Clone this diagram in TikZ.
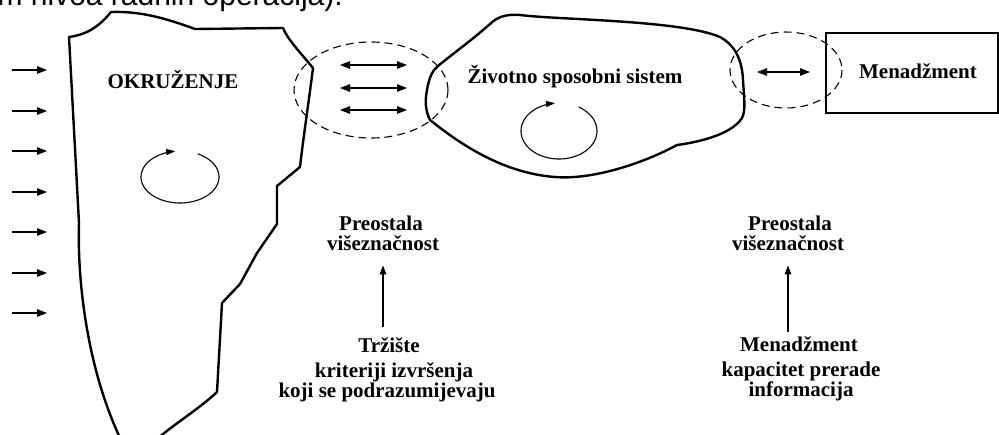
\documentclass[tikz,border=0pt]{standalone}
\usepackage{fontspec}
\setmainfont{Liberation Serif}
\newfontfamily\topfont{Liberation Sans}
\usetikzlibrary{arrows.meta}
\tikzset{
  outline/.style={line width=2.4pt, line join=round},
  zone/.style={line width=1.1pt, dash pattern=on 8pt off 5pt},
  arr/.style={line width=1.2pt, -{Triangle[length=10pt,width=7.5pt]}},
  darr/.style={line width=1.2pt, {Triangle[length=10pt,width=7.5pt]}-{Triangle[length=10pt,width=7.5pt]}},
  varr/.style={line width=1.2pt, -{Triangle[length=9pt,width=6.5pt]}},
  cyc/.style={line width=1.1pt, -{Triangle[length=9pt,width=6pt]}},
  lbl/.style={font=\fontsize{21}{22}\selectfont\bfseries, inner sep=0pt, anchor=base},
  mbox/.style={draw, line width=2.4pt, minimum width=172pt, minimum height=80pt, inner sep=0pt},
}
\begin{document}
\begin{tikzpicture}[x=1pt,y=-1pt]
\useasboundingbox (0,0) rectangle (999,434);
\clip (0,0) rectangle (999,434);
\fill[white] (0,0) rectangle (999,434);

% clipped line of text above the figure
\node[font=\topfont\fontsize{30}{30}\selectfont, inner sep=0pt, anchor=base east] (cut) at (343,5.5) {m nivoa radnih operacija).};

% environment shape
\draw[outline] (69,37) -- (79,223)
  .. controls (77,290) and (90,380) .. (125,448)
  -- (150,445)
  .. controls (172,425) and (198,410) .. (217,392)
  -- (222,303) -- (240,284) -- (257,253) -- (277,224)
  -- (277,186) -- (300,167)
  .. controls (303,140) and (309,100) .. (313,68)
  .. controls (300,52) and (288,40) .. (283,28)
  -- (195,29)
  .. controls (165,18) and (140,11) .. (111,12)
  .. controls (98,28) and (85,35) .. (69,37) -- cycle;

% viable system shape
\draw[outline] (427,90)
  .. controls (429,78) and (432,71) .. (438,66)
  .. controls (455,52) and (472,40) .. (490,24)
  .. controls (498,16) and (508,14) .. (520,15)
  .. controls (560,20) and (680,20) .. (720,37)
  .. controls (733,44) and (742,57) .. (743,80)
  .. controls (744,98) and (746,110) .. (742,118)
  .. controls (732,134) and (700,142) .. (677,145)
  .. controls (640,165) and (590,180) .. (555,177)
  .. controls (500,173) and (455,140) .. (430,120)
  .. controls (425,110) and (425,100) .. (427,90) -- cycle;

% management box
\node[mbox] (mgmt) at (912,73) {};
\node[lbl] (mgmttext) at (918,78) {Menadžment};

% dashed interface zones
\draw[zone] (371,90) ellipse [x radius=77, y radius=48];
\draw[zone] (786,70) ellipse [x radius=56, y radius=38];

% labels in shapes
\node[lbl] (env) at (173,88) {OKRUŽENJE};
\node[lbl] (vss) at (575,83) {Životno sposobni sistem};

% cycles
\draw[cyc] plot[domain=-63:263, samples=90, smooth] ({180+39*cos(\x)},{177+26*sin(\x)});
\draw[cyc] plot[domain=-59:264, samples=90, smooth] ({559+38*cos(\x)},{131+28*sin(\x)});

% incoming arrows
\foreach \y [count=\i] in {70,111,151,192,232,273,313} {
  \coordinate (in\i s) at (12,\y);
  \coordinate (in\i e) at (47,\y);
  \draw[arr] (in\i s) -- (in\i e);
}

% double arrows
\foreach \y [count=\i] in {65,88,110} {
  \coordinate (da\i l) at (340,\y);
  \coordinate (da\i r) at (407,\y);
  \draw[darr] (da\i l) -- (da\i r);
}
\coordinate (dm l) at (757,72);
\coordinate (dm r) at (810,72);
\draw[darr] (dm l) -- (dm r);

% bottom left group
\node[lbl] (pa1) at (381,230) {Preostala};
\node[lbl] (pb1) at (383,250) {višeznačnost};
\node[lbl] (src1) at (389,352) {Tržište};
\node[lbl] (d1a) at (394,377) {kriteriji izvršenja};
\node[lbl] (d1b) at (387,397) {koji se podrazumijevaju};
\draw[varr, shorten <=10pt, shorten >=15pt] (src1.north -| pb1.south) -- (pb1.south);

% bottom right group
\node[lbl] (pa2) at (790,230) {Preostala};
\node[lbl] (pb2) at (788,250) {višeznačnost};
\node[lbl] (src2) at (799,351) {Menadžment};
\node[lbl] (d2a) at (801,376) {kapacitet prerade};
\node[lbl] (d2b) at (801,396) {informacija};
\draw[varr, shorten <=4pt, shorten >=15pt] (src2.north -| pb2.south) -- (pb2.south);
\end{tikzpicture}
\end{document}
